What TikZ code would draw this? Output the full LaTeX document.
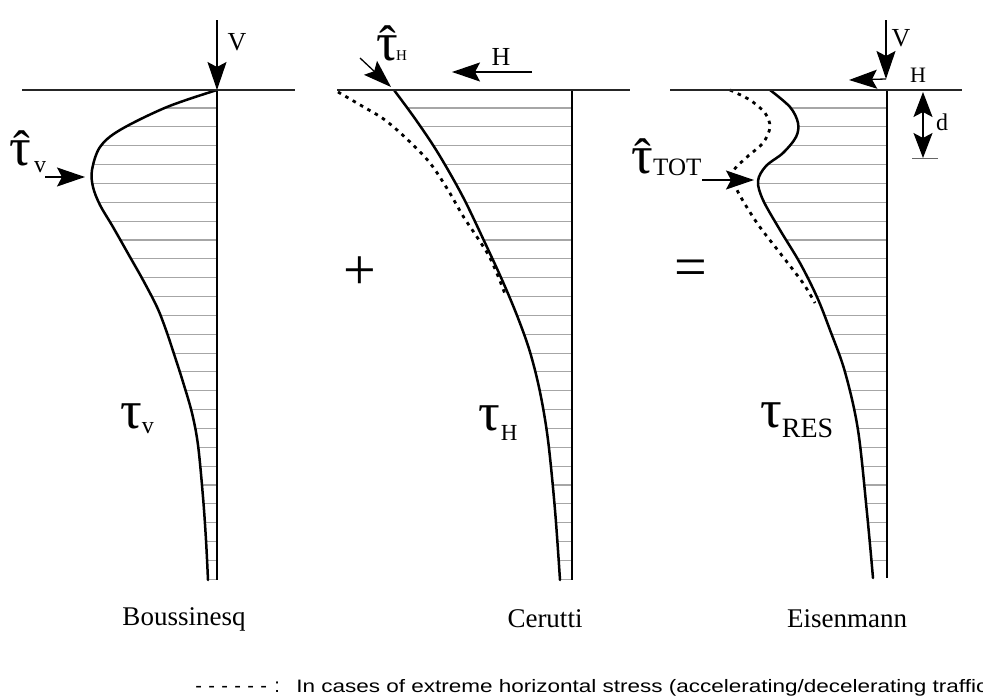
\documentclass[tikz,border=0pt]{standalone}
\usepackage{fontspec}
\setmainfont{Liberation Serif}
\newfontfamily\sansf{Liberation Sans}
\usetikzlibrary{arrows.meta}
\begin{document}
\begin{tikzpicture}[x=1pt,y=-1pt,
  ground/.style={line width=2.0pt, black!85},
  curve/.style={line width=2.5pt, line join=round, line cap=round},
  axisline/.style={line width=2.4pt},
  hatch/.style={line width=1.1pt, black!35},
  dashc/.style={line width=2.8pt, dash pattern=on 3.5pt off 5pt},
  load/.style={line width=1.3pt, -{Stealth[length=28pt,width=19pt,inset=5pt]}},
  dimarrow/.style={line width=1.3pt, {Stealth[length=25pt,width=19pt,inset=5pt]}-{Stealth[length=25pt,width=19pt,inset=5pt]}},
  txt/.style={inner sep=0pt, font=\fontsize{26}{26}\selectfont},
  tau/.style={inner sep=0pt, anchor=base west, font=\fontsize{54}{54}\selectfont},
  hatacc/.style={inner sep=0pt, anchor=base, font=\fontsize{50}{50}\selectfont},
  captxt/.style={inner sep=0pt, font=\fontsize{27}{27}\selectfont},
  signtxt/.style={inner sep=0pt, font=\fontsize{58}{58}\selectfont}
]
\useasboundingbox (0,0) rectangle (983,696);
\clip (0,0) rectangle (983,696);
\fill[white] (0,0) rectangle (983,696);

% ---------------- Panel 1: Boussinesq ----------------
\begin{scope}
\clip plot[smooth,tension=0.55] coordinates {(217,90) (167,107) (120,130) (100,147) (92,170) (93,187) (100,205) (113,227) (130,257) (143,280) (157,307) (166,330) (175,357) (183,382) (192,413) (198,445) (203,497) (206,540) (208,580)} -- (217,580) -- cycle;
\foreach \k in {0,...,25} \draw[hatch] (0,{108+18.85*\k}) -- (983,{108+18.85*\k});
\end{scope}
\draw[curve] plot[smooth,tension=0.55] coordinates {(217,90) (167,107) (120,130) (100,147) (92,170) (93,187) (100,205) (113,227) (130,257) (143,280) (157,307) (166,330) (175,357) (183,382) (192,413) (198,445) (203,497) (206,540) (208,580)};
\coordinate (a1top) at (217,90);
\coordinate (a1bot) at (217,580);
\draw[axisline] (a1top) -- (a1bot);
\coordinate (g1l) at (22,90);
\coordinate (g1r) at (295,90);
\draw[ground] (g1l) -- (g1r);
\coordinate (v1s) at (217,20);
\draw[load] (v1s) -- (a1top);
\node[txt] (v1lbl) at (237,42) {V};
\coordinate (t1s) at (45,177);
\coordinate (t1e) at (85,177);
\draw[load] (t1s) -- (t1e);
\node[tau] (t1tau) at (9,165) {τ};
\node[hatacc] (t1hat) at (22,165) {ˆ};
\node[inner sep=0pt, anchor=base west, font=\fontsize{24}{24}\selectfont] (t1sub) at (34,172) {v};
\node[tau] (tv) at (120,428) {τ\raisebox{-5pt}{\fontsize{24}{24}\selectfont v}};
\node[captxt] (boussinesq) at (184,619) {Boussinesq};

\node[signtxt] (plus) at (360,273) {+};

% ---------------- Panel 2: Cerutti ----------------
\begin{scope}
\clip plot[smooth,tension=0.55] coordinates {(394,90) (416,120) (438,153) (463,197) (486,245) (503,282) (518,318) (530,352) (540,392) (548,440) (555,510) (560,580)} -- (572,580) -- (572,90) -- cycle;
\foreach \k in {0,...,25} \draw[hatch] (0,{108+18.85*\k}) -- (983,{108+18.85*\k});
\end{scope}
\draw[dashc] plot[smooth,tension=0.55] coordinates {(338,92) (362,106) (385,120) (409,141) (430,163) (448,190) (463,216) (477,237) (489,256) (498,276) (505,294)};
\draw[curve] plot[smooth,tension=0.55] coordinates {(394,90) (416,120) (438,153) (463,197) (486,245) (503,282) (518,318) (530,352) (540,392) (548,440) (555,510) (560,580)};
\coordinate (a2top) at (572,90);
\coordinate (a2bot) at (572,580);
\draw[axisline] (a2top) -- (a2bot);
\coordinate (g2l) at (337,90);
\coordinate (g2r) at (630,90);
\draw[ground] (g2l) -- (g2r);
\coordinate (h2s) at (532,72);
\coordinate (h2e) at (452,72);
\draw[load] (h2s) -- (h2e);
\node[txt] (h2lbl) at (501,57) {H};
\coordinate (t2s) at (360,58);
\coordinate (t2e) at (391,87);
\draw[load] (t2s) -- (t2e);
\node[tau] (t2tau) at (376,60) {τ};
\node[hatacc] (t2hat) at (388,60) {ˆ};
\node[inner sep=0pt, anchor=base west, font=\fontsize{15}{15}\selectfont] (t2sub) at (396,60) {H};
\node[tau] (th) at (478,430) {τ\kern1pt\raisebox{-10pt}{\fontsize{23}{23}\selectfont H}};
\node[captxt] (cerutti) at (545,619) {Cerutti};

\node[signtxt] (equals) at (691,273) {=};

% ---------------- Panel 3: Eisenmann ----------------
\begin{scope}
\clip plot[smooth,tension=0.55] coordinates {(770,90) (790,107) (798,123) (796,137) (783,153) (766,166) (758,181) (763,200) (780,230) (800,263) (817,297) (830,330) (845,372) (858,430) (867,513) (873,578)} -- (887,578) -- (887,90) -- cycle;
\foreach \k in {0,...,25} \draw[hatch] (0,{108+18.85*\k}) -- (983,{108+18.85*\k});
\end{scope}
\draw[dashc] plot[smooth,tension=0.5] coordinates {(730,90) (750,100) (765,113) (770,127) (763,143) (747,157) (733,172) (737,190) (757,223) (780,253) (803,283) (815,303)};
\draw[curve] plot[smooth,tension=0.55] coordinates {(770,90) (790,107) (798,123) (796,137) (783,153) (766,166) (758,181) (763,200) (780,230) (800,263) (817,297) (830,330) (845,372) (858,430) (867,513) (873,578)};
\coordinate (a3top) at (887,90);
\coordinate (a3bot) at (887,578);
\draw[axisline] (a3top) -- (a3bot);
\coordinate (g3l) at (670,90);
\coordinate (g3r) at (962,90);
\draw[ground] (g3l) -- (g3r);
\coordinate (v3s) at (886,20);
\coordinate (v3e) at (886,79);
\draw[load] (v3s) -- (v3e);
\node[txt] (v3lbl) at (901,38) {V};
\coordinate (h3e) at (849,80);
\draw[load] (v3e) -- (h3e);
\node[txt,font=\fontsize{22}{22}\selectfont] (h3lbl) at (918,75) {H};
\coordinate (d3t) at (923,92);
\coordinate (d3b) at (923,158);
\draw[dimarrow] (d3t) -- (d3b);
\coordinate (d3l) at (912,158);
\coordinate (d3r) at (938,158);
\draw[line width=0.9pt, black!60] (d3l) -- (d3r);
\node[txt,font=\fontsize{24}{24}\selectfont] (dlbl) at (942,122) {d};
\coordinate (t3s) at (702,180);
\coordinate (t3e) at (754,180);
\draw[load] (t3s) -- (t3e);
\node[tau] (t3tau) at (631,173) {τ};
\node[hatacc] (t3hat) at (643,173) {ˆ};
\node[inner sep=0pt, anchor=base west, font=\fontsize{25}{25}\selectfont] (t3sub) at (653,175) {TOT};
\node[tau] (tres) at (760,427) {τ\raisebox{-10pt}{\fontsize{28}{28}\selectfont RES}};
\node[captxt] (eisenmann) at (847,619) {Eisenmann};

% ---------------- Footer ----------------
\node[inner sep=0pt, anchor=base west, font=\sansf\fontsize{20}{20}\selectfont] (legend) at (192,692)
  {\makebox[13pt]{-}\makebox[13pt]{-}\makebox[13pt]{-}\makebox[13pt]{-}\makebox[13pt]{-}\makebox[13pt]{-}\makebox[14pt]{:}};
\node[inner sep=0pt, anchor=base west, xscale=1.25, font=\sansf\fontsize{18}{18}\selectfont] (legtext) at (296,692)
  {In cases of extreme horizontal stress (accelerating/decelerating traffic};
\end{tikzpicture}
\end{document}
